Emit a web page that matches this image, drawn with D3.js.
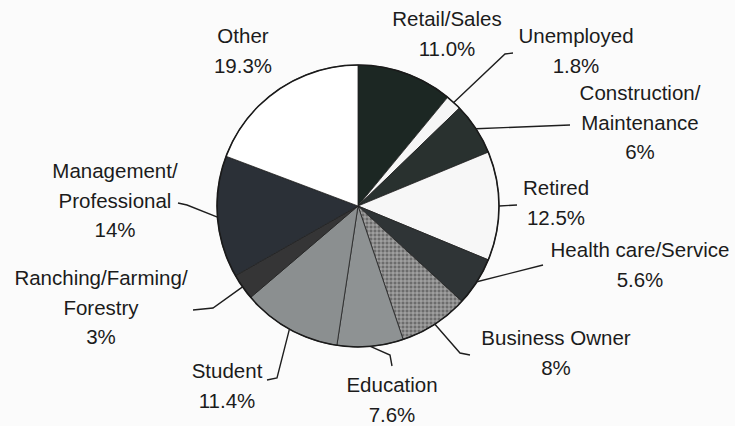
<!DOCTYPE html>
<html>
<head>
<meta charset="utf-8">
<script src="https://cdn.jsdelivr.net/npm/d3@7/dist/d3.min.js"></script>
<style>
  html, body { margin: 0; padding: 0; background: #fbfbfb; }
  svg { display: block; }
  text { font-family: "Liberation Sans", Arial, sans-serif; font-size: 20.5px; fill: #1b1b1b; }
</style>
</head>
<body>
<script>
// ---- data ----
const categories = ["Retail/Sales", "Unemployed", "Construction/Maintenance", "Retired",
  "Health care/Service", "Business Owner", "Education", "Student",
  "Ranching/Farming/Forestry", "Management/Professional", "Other"];
const values = [11.0, 1.8, 6, 12.5, 5.6, 8, 7.6, 11.4, 3, 14, 19.3];
const valueLabels = ["11.0%", "1.8%", "6%", "12.5%", "5.6%", "8%", "7.6%", "11.4%", "3%", "14%", "19.3%"];
const labelLines = [["Retail/Sales"], ["Unemployed"], ["Construction/", "Maintenance"], ["Retired"],
  ["Health care/Service"], ["Business Owner"], ["Education"], ["Student"],
  ["Ranching/Farming/", "Forestry"], ["Management/", "Professional"], ["Other"]];
const fills = ["#1c2723", "#f6f6f6", "#29312f", "#f7f7f7", "#2f3436", "url(#bizPattern)",
  "#8e9293", "#8b8f90", "#353536", "#2b3037", "#ffffff"];

// ---- layout (annotation positions) ----
const W = 735, H = 426;
const cx = 358, cy = 206, R = 141;
const lineGap = 29.5;
const labelPos = [[447, 26], [576, 43], [640, 100], [556, 195], [640, 257], [556, 345],
  [392, 392], [227, 378], [101, 285], [115, 178], [243, 43]];
const leaderPts = [null, [[505, 54], [513, 53]], [[570, 125]], [[517, 205]], [[543, 265]],
  [[460, 353], [470, 355]], [[390, 355], [392, 366]], [[277, 378], [267, 380]],
  [[213, 308], [193, 310]], [[187, 205], [178, 203]], null];

const svg = d3.select("body").append("svg").attr("width", W).attr("height", H);

const defs = svg.append("defs");
const pat = defs.append("pattern").attr("id", "bizPattern").attr("patternUnits", "userSpaceOnUse")
  .attr("width", 4).attr("height", 4);
pat.append("rect").attr("width", 4).attr("height", 4).attr("fill", "#8c8c8c");
pat.append("rect").attr("width", 2).attr("height", 2).attr("fill", "#6c6c6c");
pat.append("rect").attr("x", 2).attr("y", 2).attr("width", 2).attr("height", 2).attr("fill", "#9e9e9e");

const pie = d3.pie().sort(null).value(d => d);
const arcs = pie(values);
const arc = d3.arc().innerRadius(0).outerRadius(R);

const g = svg.append("g").attr("transform", `translate(${cx},${cy})`);
g.selectAll("path.slice").data(arcs).enter().append("path")
  .attr("class", "slice")
  .attr("d", arc)
  .attr("fill", (d, i) => fills[i])
  .attr("stroke", "#222")
  .attr("stroke-width", 0.8);

g.append("circle").attr("r", R).attr("fill", "none").attr("stroke", "#1a1a1a").attr("stroke-width", 1.6);

// leader lines
arcs.forEach((d, i) => {
  if (!leaderPts[i]) return;
  const a = (d.startAngle + d.endAngle) / 2;
  const start = [cx + R * Math.sin(a), cy - R * Math.cos(a)];
  const pts = [start].concat(leaderPts[i]);
  svg.append("path")
    .attr("d", d3.line()(pts))
    .attr("fill", "none")
    .attr("stroke", "#1e1e1e")
    .attr("stroke-width", 1.4);
});

// labels
categories.forEach((c, i) => {
  const lines = labelLines[i].concat([valueLabels[i]]);
  const t = svg.append("text").attr("text-anchor", "middle");
  lines.forEach((ln, k) => {
    t.append("tspan").attr("x", labelPos[i][0]).attr("y", labelPos[i][1] + k * lineGap).text(ln);
  });
});
</script>
</body>
</html>
